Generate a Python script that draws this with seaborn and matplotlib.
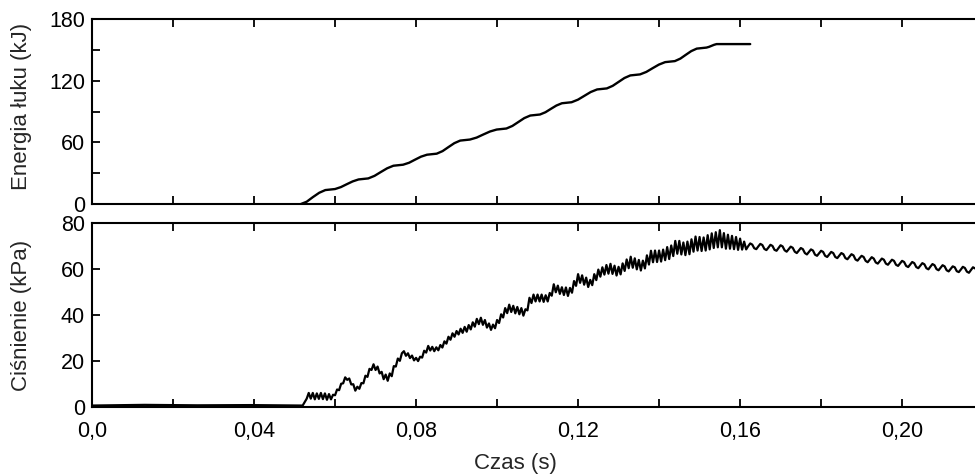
"""Arc energy and pressure vs time, two stacked panels."""

import matplotlib

matplotlib.use("Agg")
import matplotlib.pyplot as plt
import numpy as np
import pandas as pd
import seaborn as sns
from matplotlib.ticker import FixedLocator, MultipleLocator


# arc energy (kJ)
ENERGY_T = [
    0.0, 0.0514, 0.0530, 0.0545, 0.0561,
    0.0576, 0.0588, 0.0600, 0.06145, 0.0629, 0.06435,
    0.0658, 0.0670, 0.0682, 0.06975, 0.0713, 0.07285,
    0.0744, 0.0756, 0.0768, 0.07828, 0.07975, 0.08122,
    0.0827, 0.0839, 0.0851, 0.08655, 0.0880, 0.08945,
    0.0909, 0.0921, 0.0933, 0.09495, 0.0966, 0.09825,
    0.0999, 0.1011, 0.1023, 0.10378, 0.10525, 0.10672,
    0.1082, 0.1094, 0.1106, 0.11195, 0.1133, 0.11465,
    0.1160, 0.1172, 0.1184, 0.11998, 0.12155, 0.12312,
    0.1247, 0.1259, 0.1271, 0.12855, 0.1300, 0.13145,
    0.1329, 0.1341, 0.1353, 0.13685, 0.1384, 0.13995,
    0.1415, 0.1427, 0.1439, 0.14525, 0.1466, 0.14795,
    0.1493, 0.1505, 0.1517, 0.15232, 0.15295, 0.15358,
    0.1542, 0.1625,
]
ENERGY_KJ = [
    0.0, 0.0, 2.5, 6.9, 11.2,
    13.8, 14.3, 14.8, 16.7, 19.5, 22.2,
    24.1, 24.6, 25.1, 27.6, 31.3, 34.9,
    37.4, 37.9, 38.4, 40.3, 43.3, 46.2,
    48.1, 48.6, 49.1, 51.6, 55.5, 59.3,
    61.8, 62.3, 62.8, 64.7, 67.7, 70.6,
    72.5, 73.0, 73.5, 76.0, 79.8, 83.6,
    86.1, 86.6, 87.1, 89.3, 92.6, 95.8,
    98.0, 98.5, 99.0, 101.5, 105.2, 108.9,
    111.4, 111.9, 112.4, 114.9, 118.7, 122.5,
    125.0, 125.5, 126.0, 128.4, 132.0, 135.5,
    137.9, 138.4, 138.9, 141.3, 145.0, 148.6,
    151.0, 151.5, 152.0, 152.7, 153.7, 154.7,
    155.4, 155.4,
]

# pressure (kPa) before the arc ignites
BASELINE_T = [0.0, 0.013, 0.026, 0.039, 0.0515]
BASELINE_KPA = [0.5, 0.8, 0.6, 0.7, 0.5]

# pressure (kPa) sampled every 0.5 ms from 0.052 s
PRESSURE_T0 = 0.052
PRESSURE_DT = 0.0005
PRESSURE_KPA = [
    0.5, 2.0, 3.5, 6.0, 3.5, 6.0, 3.2, 5.8, 3.4, 6.0,
    3.3, 5.8, 3.0, 5.5, 3.2, 5.2, 5.0, 7.5, 7.2, 10.0,
    10.2, 12.8, 11.7, 12.3, 9.7, 9.8, 7.0, 8.7, 7.8, 10.3,
    10.2, 13.5, 13.0, 16.5, 16.0, 18.5, 16.0, 17.5, 14.5, 15.2,
    12.0, 14.0, 11.3, 14.5, 13.3, 17.7, 17.5, 21.0, 20.0, 23.3,
    24.2, 22.2, 23.3, 21.2, 22.3, 20.2, 21.3, 19.9, 21.8, 21.4,
    24.4, 23.6, 26.5, 24.5, 26.1, 24.2, 25.9, 24.6, 26.9, 25.8,
    28.5, 27.5, 30.5, 29.2, 32.0, 30.5, 33.0, 31.5, 34.0, 32.2,
    34.8, 32.7, 35.6, 33.7, 36.8, 34.9, 38.3, 36.0, 38.8, 35.7,
    37.8, 34.5, 36.3, 33.5, 35.8, 34.2, 37.8, 36.5, 40.3, 38.9,
    43.0, 40.8, 44.5, 41.3, 44.0, 40.7, 43.5, 40.3, 43.0, 39.7,
    42.5, 42.0, 47.5, 45.2, 48.9, 45.9, 48.9, 45.9, 48.9, 45.7,
    48.6, 45.9, 49.6, 48.4, 53.4, 49.9, 52.8, 49.2, 52.1, 48.7,
    52.0, 48.3, 51.8, 49.7, 54.8, 52.7, 57.8, 54.0, 57.3, 53.2,
    56.3, 52.2, 55.3, 53.0, 57.8, 55.2, 59.8, 56.7, 60.8, 57.6,
    61.8, 58.0, 62.3, 57.9, 61.5, 57.2, 61.0, 57.7, 62.5, 59.2,
    64.2, 60.4, 65.4, 60.6, 64.7, 59.9, 64.0, 59.4, 63.7, 60.3,
    66.0, 62.0, 68.0, 63.0, 68.1, 63.1, 68.1, 63.3, 68.5, 63.9,
    69.6, 64.4, 70.3, 65.7, 72.3, 66.7, 72.3, 66.4, 71.6, 66.1,
    72.0, 66.5, 73.0, 67.6, 74.2, 68.1, 74.0, 67.9, 73.8, 68.1,
    74.8, 68.6, 75.6, 69.2, 76.1, 69.5, 77.0, 69.5, 75.7, 68.9,
    75.0, 68.9, 74.5, 68.7, 74.0, 68.4, 73.3, 68.5, 72.0, 68.6,
    70.0, 71.2, 70.7, 69.1, 68.7, 69.9, 71.0, 70.5, 68.8, 68.3,
    69.4, 70.6, 70.1, 68.4, 68.0, 69.2, 70.4, 69.9, 68.2, 67.6,
    68.7, 69.8, 69.3, 67.6, 67.0, 68.1, 69.2, 68.7, 67.0, 66.4,
    67.5, 68.6, 68.1, 66.3, 65.8, 66.9, 68.0, 67.5, 65.8, 65.3,
    66.4, 67.5, 67.0, 65.3, 64.8, 65.9, 67.0, 66.5, 64.8, 64.3,
    65.4, 66.5, 66.0, 64.2, 63.7, 64.8, 65.8, 65.3, 63.6, 63.0,
    64.1, 65.2, 64.6, 62.9, 62.4, 63.5, 64.6, 64.1, 62.4, 61.9,
    63.0, 64.1, 63.6, 61.9, 61.4, 62.5, 63.6, 63.1, 61.4, 60.9,
    62.0, 63.1, 62.6, 60.9, 60.4, 61.5, 62.6, 62.1, 60.4, 59.9,
    61.1, 62.2, 61.7, 60.0, 59.5, 60.6, 61.7, 61.2, 59.5, 59.0,
    60.1, 61.2, 60.8, 59.1, 58.7, 59.8, 61.0, 60.5, 58.9, 58.4,
    59.6, 60.8, 60.3,
]

X_TICKS = [0.0, 0.04, 0.08, 0.12, 0.16, 0.20]
X_TICK_LABELS = ["0,0", "0,04", "0,08", "0,12", "0,16", "0,20"]
ENERGY_TICKS = [0, 60, 120, 180]
PRESSURE_TICKS = [0, 20, 40, 60, 80]


def style_axis(ax):
    ax.set_xlim(0, 0.218)
    ax.xaxis.set_major_locator(FixedLocator(X_TICKS))
    ax.xaxis.set_minor_locator(MultipleLocator(0.02))
    ax.tick_params(which="both", direction="in", top=True, right=False,
                   length=6, width=1.3, labelsize=15.5, colors="black")
    ax.tick_params(axis="x", pad=10)
    ax.tick_params(axis="y", pad=5)
    for side in ("left", "top", "bottom"):
        ax.spines[side].set_linewidth(1.5)
        ax.spines[side].set_color("black")
    ax.spines["right"].set_visible(False)


def main():
    sns.set_style("ticks")
    plt.rcParams["font.family"] = ["Liberation Sans", "DejaVu Sans"]

    energy = pd.DataFrame({"t": ENERGY_T, "E": ENERGY_KJ})
    t_press = np.round(PRESSURE_T0 + PRESSURE_DT * np.arange(len(PRESSURE_KPA)), 4)
    pressure = pd.DataFrame({
        "t": np.concatenate([BASELINE_T, t_press]),
        "P": np.concatenate([BASELINE_KPA, PRESSURE_KPA]),
    })

    fig = plt.figure(figsize=(9.75, 4.74), dpi=100)
    ax1 = fig.add_axes([0.0944, 0.569, 0.9056, 0.3915])
    ax2 = fig.add_axes([0.0944, 0.142, 0.9056, 0.387])

    sns.lineplot(data=energy, x="t", y="E", ax=ax1, color="black",
                 linewidth=1.7, estimator=None, sort=False)
    sns.lineplot(data=pressure, x="t", y="P", ax=ax2, color="black",
                 linewidth=1.6, estimator=None, sort=False)

    style_axis(ax1)
    ax1.set_ylim(0, 180)
    ax1.yaxis.set_major_locator(FixedLocator(ENERGY_TICKS))
    ax1.yaxis.set_minor_locator(MultipleLocator(30))
    ax1.set_xticklabels([])
    ax1.set_xlabel("")
    ax1.set_ylabel("Energia łuku (kJ)", fontsize=16)
    ax1.yaxis.set_label_coords(-0.068, 0.53)

    style_axis(ax2)
    ax2.set_ylim(0, 80)
    ax2.yaxis.set_major_locator(FixedLocator(PRESSURE_TICKS))
    ax2.set_xticklabels(X_TICK_LABELS)
    ax2.set_xlabel("Czas (s)", fontsize=16)
    ax2.xaxis.set_label_coords(0.48, -0.255)
    ax2.set_ylabel("Ciśnienie (kPa)", fontsize=16)
    ax2.yaxis.set_label_coords(-0.068, 0.5)

    fig.savefig("out.png", dpi=100)
    plt.close(fig)


if __name__ == "__main__":
    main()
